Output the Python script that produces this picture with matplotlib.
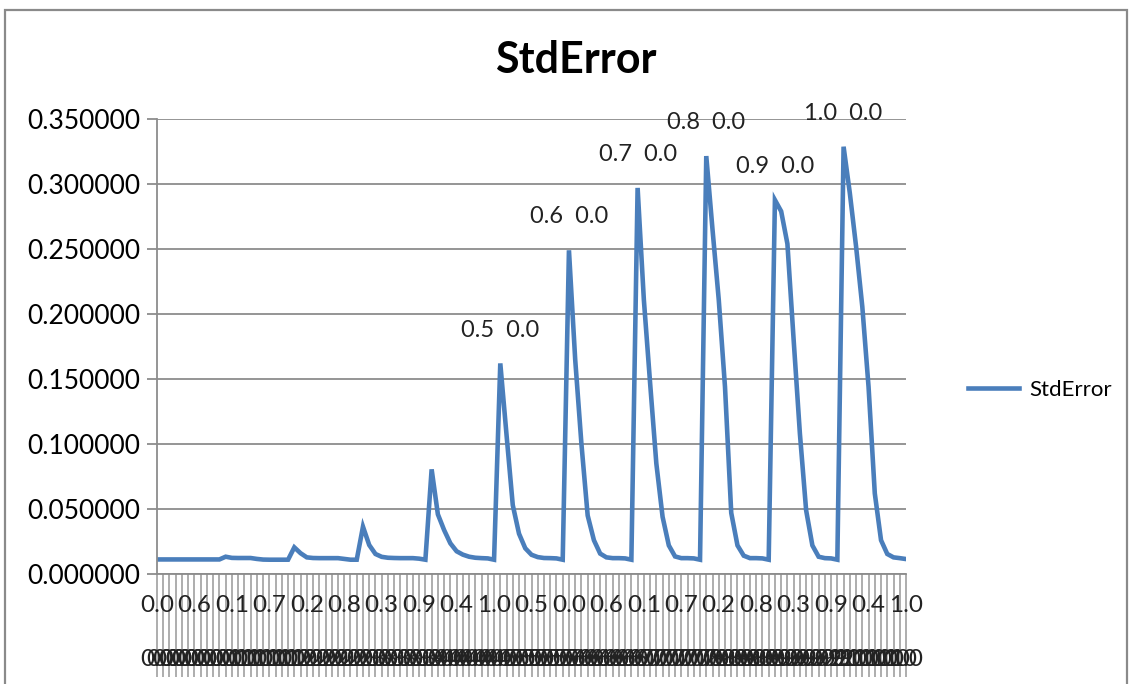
import matplotlib.pyplot as plt
from matplotlib.patches import Rectangle

# category levels (first parameter / second parameter)
outer_params = ["0.0", "0.1", "0.2", "0.3", "0.4", "0.5", "0.6", "0.7", "0.8", "0.9", "1.0"]
inner_params = ["0.0", "0.1", "0.2", "0.3", "0.4", "0.5", "0.6", "0.7", "0.8", "0.9", "1.0"]

# StdError, one row of 11 values per outer parameter
std_error = [
    0.0112, 0.0112, 0.0112, 0.0112, 0.0112, 0.0112, 0.0112, 0.0112, 0.0112, 0.0112, 0.0112,
    0.0133, 0.0124, 0.0123, 0.0123, 0.0123, 0.0116, 0.0111, 0.0110, 0.0110, 0.0110, 0.0110,
    0.0205, 0.0160, 0.0128, 0.0123, 0.0122, 0.0122, 0.0122, 0.0122, 0.0116, 0.0110, 0.0110,
    0.0364, 0.0223, 0.0154, 0.0132, 0.0125, 0.0123, 0.0122, 0.0122, 0.0122, 0.0118, 0.0110,
    0.0805, 0.0459, 0.0338, 0.0236, 0.0175, 0.0149, 0.0133, 0.0125, 0.0122, 0.0120, 0.0110,
    0.1620, 0.1070, 0.0530, 0.0310, 0.0198, 0.0148, 0.0130, 0.0123, 0.0122, 0.0120, 0.0110,
    0.2490, 0.1650, 0.1000, 0.0450, 0.0260, 0.0157, 0.0128, 0.0122, 0.0122, 0.0120, 0.0110,
    0.2970, 0.2110, 0.1470, 0.0850, 0.0440, 0.0220, 0.0135, 0.0122, 0.0122, 0.0120, 0.0110,
    0.3215, 0.2650, 0.2110, 0.1440, 0.0470, 0.0220, 0.0141, 0.0122, 0.0122, 0.0120, 0.0110,
    0.2877, 0.2790, 0.2540, 0.1800, 0.1080, 0.0490, 0.0220, 0.0133, 0.0122, 0.0120, 0.0110,
    0.3287, 0.2930, 0.2520, 0.2056, 0.1440, 0.0620, 0.0260, 0.0154, 0.0128, 0.0122, 0.0115,
]

# points that carry a data label (outer, inner)
labeled = [("0.5", "0.0"), ("0.6", "0.0"), ("0.7", "0.0"), ("0.8", "0.0"), ("0.9", "0.0"), ("1.0", "0.0")]

font = "Lato"
blue = "#4A7EBB"
grid_grey = "#8C8C8C"

fig = plt.figure(figsize=(11.32, 6.84), dpi=100)
ax = fig.add_axes([157 / 1132, 110 / 684, (906 - 157) / 1132, (565 - 110) / 684])

n_in = len(inner_params)
xs = list(range(len(std_error)))
ax.plot(xs, std_error, color=blue, lw=3.3, solid_joinstyle="miter", label="StdError")

ax.set_xlim(0, len(std_error) - 1)
ax.set_ylim(0, 0.35)
ax.set_yticks([0.05 * k for k in range(8)])
ax.set_yticklabels(["%.6f" % (0.05 * k) for k in range(8)], fontsize=19, family=font)
ax.yaxis.grid(True, color=grid_grey, lw=1.3)
ax.set_axisbelow(True)
ax.tick_params(axis="y", length=7, width=1.3, color=grid_grey, pad=5)

# one tick per category, long ticks run through the label rows
ax.set_xticks(xs)
ax.set_xticklabels([])
ax.tick_params(axis="x", length=74, width=1.2, color="#A0A0A0")

for s in ["top", "right"]:
    ax.spines[s].set_visible(False)
for s in ["left", "bottom"]:
    ax.spines[s].set_color(grid_grey)
    ax.spines[s].set_linewidth(1.3)

# two rows of category labels
trans = ax.get_xaxis_transform()
for i in xs:
    o = outer_params[i // n_in]
    inn = inner_params[i % n_in]
    if i % 6 == 0:
        ax.text(i, -32 / 455, inn, transform=trans, ha="center", va="center",
                fontsize=17.5, family=font, color="#222222", clip_on=False)
    ax.text(i, -86 / 455, o, transform=trans, ha="center", va="center",
            fontsize=17.5, family=font, color="#222222", clip_on=False)

# data labels above the peaks
for o, inn in labeled:
    i = outer_params.index(o) * n_in + inner_params.index(inn)
    ax.annotate(o + "  " + inn, (i, std_error[i]), xytext=(0, 24), textcoords="offset points",
                ha="center", va="center", fontsize=17, family=font, color="#222222",
                annotation_clip=False)

fig.text(576 / 1132, 1 - 60 / 684, "StdError", ha="center", va="center",
         fontsize=31, fontweight="bold", family=font)

leg = ax.legend(loc="center left", bbox_to_anchor=(968 / 1132, 1 - 390 / 684),
                bbox_transform=fig.transFigure, frameon=False, handlelength=2.3,
                handletextpad=0.45, borderpad=0, borderaxespad=0,
                prop={"family": font, "size": 16})

# chart area border
fig.patches.append(Rectangle((5 / 1132, -0.1), (1127 - 5) / 1132, 1.1 - 10 / 684,
                             transform=fig.transFigure, fill=False, ec="#8A8A8A", lw=1.6))

fig.savefig("out.png", dpi=100)
